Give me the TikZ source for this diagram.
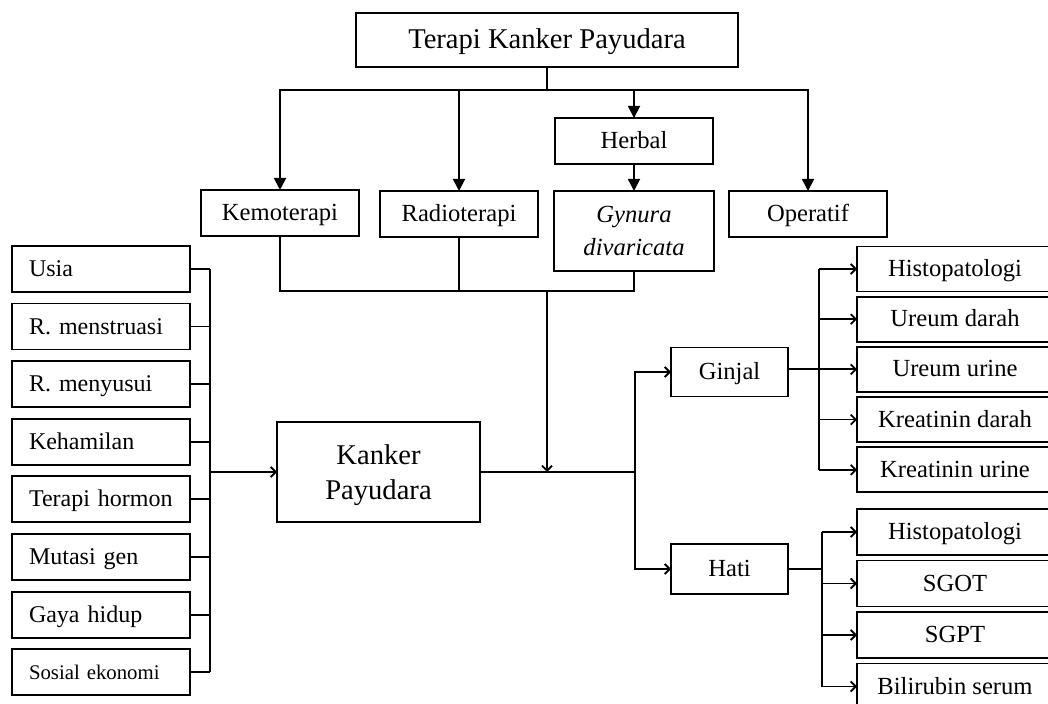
\documentclass[tikz,border=0pt]{standalone}
\usepackage{fontspec}
\setmainfont{Liberation Serif}
\usetikzlibrary{arrows.meta, positioning}

\begin{document}
\begin{tikzpicture}[
  x=0.5pt, y=-0.5pt,
  frame/.style={draw, line width=0.9pt, inner sep=0pt, outer sep=0pt, align=center, font=\fontsize{12.3}{15}\selectfont},
  box/.style={frame, minimum height=23pt, minimum width=79pt, text height=9.5pt, text depth=2pt},
  factor/.style={box, font=\fontsize{12}{15}\selectfont, minimum width=89pt, text width=72pt, align=left, inner xsep=8.5pt},
  param/.style={box, minimum width=98pt, minimum height=22.5pt},
  line/.style={line width=0.9pt},
  arrow/.style={line, -{Triangle[length=6pt, width=6pt]}},
  thin arrow/.style={line, -{Straight Barb[length=2.5pt, width=5pt]}}
]
\useasboundingbox (0,0) rectangle (1048,704);
\clip (0,0) rectangle (1048,704);

\node[box, minimum width=191pt, minimum height=27pt, text height=11pt, text depth=2.5pt, font=\fontsize{14.3}{17}\selectfont] (terapi) at (547,40) {Terapi Kanker Payudara};
\node[box] (herbal) at (634,141) {Herbal};
\node[box, anchor=north] (kemo) at (280,190) {Kemoterapi};
\node[box, anchor=north] (radio) at (459,191) {Radioterapi};
\node[frame, anchor=north, minimum width=80pt, minimum height=40pt, text depth=0pt, font=\fontsize{12.3}{16.5}\selectfont\itshape] (gynura) at (634,191) {Gynura\\divaricata};
\node[box, anchor=north] (operatif) at (808,191) {Operatif};
\node[frame, minimum width=101.5pt, minimum height=50pt, text depth=0pt, font=\fontsize{14.3}{17.5}\selectfont] (kanker) at (378.5,472) {Kanker\\Payudara};

\node[factor] (usia) at (101,269) {Usia};
\node[factor, below=5.8pt of usia] (menstruasi) {R. menstruasi};
\node[factor, below=5.8pt of menstruasi] (menyusui) {R. menyusui};
\node[factor, below=5.8pt of menyusui] (hamil) {Kehamilan};
\node[factor, below=5.8pt of hamil] (hormon) {Terapi hormon};
\node[factor, below=5.8pt of hormon] (mutasi) {Mutasi gen};
\node[factor, below=5.8pt of mutasi] (gaya) {Gaya hidup};
\node[factor, below=5.8pt of gaya, font=\fontsize{10.4}{12}\selectfont] (sosial) {Sosial ekonomi};

\node[box, minimum width=58.5pt, minimum height=24.5pt] (ginjal) at (729.5,372) {Ginjal};
\node[box, minimum width=58.5pt, minimum height=25pt] (hati) at (729.5,569) {Hati};

\node[param] (histoginjal) at (955,269) {Histopatologi};
\node[param, below=2.6pt of histoginjal] (ureumdarah) {Ureum darah};
\node[param, below=2.6pt of ureumdarah] (ureumurine) {Ureum urine};
\node[param, below=2.6pt of ureumurine] (kreadarah) {Kreatinin darah};
\node[param, below=2.6pt of kreadarah] (kreaurine) {Kreatinin urine};

\node[param, minimum height=23pt] (histohati) at (955,532) {Histopatologi};
\node[param, minimum height=23pt, below=2.75pt of histohati] (sgot) {SGOT};
\node[param, minimum height=23pt, below=2.75pt of sgot] (sgpt) {SGPT};
\node[param, minimum height=23pt, below=2.75pt of sgpt] (bilirubin) {Bilirubin serum};

\coordinate (split) at (547,90);
\coordinate (merge) at (547,291);
\coordinate (organ) at (635,472);
\coordinate (faktor) at (210,472);
\coordinate (ginjalbus) at (819,369);
\coordinate (hatibus) at (822,569);

\draw[line] (terapi) -- (split);
\draw[arrow] (split) -| (kemo.north);
\draw[arrow] (split) -| (radio.north);
\draw[arrow] (split) -| (herbal.north);
\draw[arrow] (split) -| (operatif.north);
\draw[arrow] (herbal) -- (gynura);

\draw[line] (kemo.south) |- (merge);
\draw[line] (radio.south) |- (merge);
\draw[line] (gynura.south) |- (merge);
\draw[thin arrow] (merge) -- (merge |- kanker.east);

\draw[line] (usia.east) -- (usia.east -| faktor);
\draw[line] (menstruasi.east) -- (menstruasi.east -| faktor);
\draw[line] (menyusui.east) -- (menyusui.east -| faktor);
\draw[line] (hamil.east) -- (hamil.east -| faktor);
\draw[line] (hormon.east) -- (hormon.east -| faktor);
\draw[line] (mutasi.east) -- (mutasi.east -| faktor);
\draw[line] (gaya.east) -- (gaya.east -| faktor);
\draw[line] (sosial.east) -- (sosial.east -| faktor);
\draw[line] (usia.east -| faktor) -- (sosial.east -| faktor);
\draw[thin arrow] (faktor) -- (kanker.west);

\draw[line] (kanker.east) -- (organ);
\draw[thin arrow] (organ) |- (ginjal.west);
\draw[thin arrow] (organ) |- (hati.west);

\draw[line] (ginjalbus |- histoginjal.west) -- (ginjalbus |- kreaurine.west);
\draw[thin arrow] (ginjalbus |- histoginjal.west) -- (histoginjal.west);
\draw[thin arrow] (ginjalbus |- ureumdarah.west) -- (ureumdarah.west);
\draw[thin arrow] (ginjal.east |- ureumurine.west) -- (ureumurine.west);
\draw[thin arrow] (ginjalbus |- kreadarah.west) -- (kreadarah.west);
\draw[thin arrow] (ginjalbus |- kreaurine.west) -- (kreaurine.west);

\draw[line] (hati.east) -- (hatibus);
\draw[line] (hatibus |- histohati.west) -- (hatibus |- bilirubin.west);
\draw[thin arrow] (hatibus |- histohati.west) -- (histohati.west);
\draw[thin arrow] (hatibus |- sgot.west) -- (sgot.west);
\draw[thin arrow] (hatibus |- sgpt.west) -- (sgpt.west);
\draw[thin arrow] (hatibus |- bilirubin.west) -- (bilirubin.west);
\end{tikzpicture}
\end{document}
